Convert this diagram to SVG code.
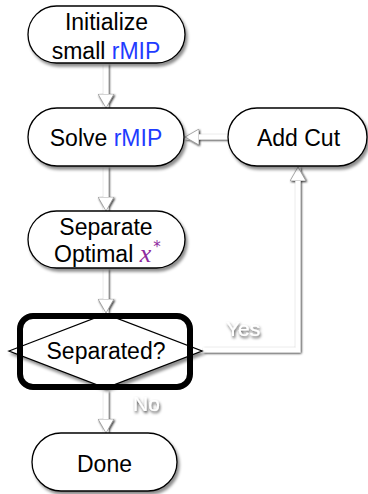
<svg xmlns="http://www.w3.org/2000/svg" width="368" height="494" viewBox="0 0 368 494">
<defs>
<style>
.node{fill:#fff;stroke:#000;stroke-width:1.3;filter:url(#sh)}
.t{font-family:"Liberation Sans",Arial,sans-serif;font-size:23px;fill:#000;text-anchor:middle}
.b{fill:#1f3cff}
.c{fill:none;stroke:#fff;stroke-width:5;filter:url(#lsh);marker-end:url(#ah)}
.lbl{font-family:"Liberation Sans",Arial,sans-serif;font-size:21px;fill:#fff;filter:url(#tsh)}
</style>
<filter id="sh" x="-20%" y="-20%" width="140%" height="150%">
<feGaussianBlur in="SourceAlpha" stdDeviation="1.5"/>
<feOffset dx="1.5" dy="2.5" result="o"/>
<feFlood flood-color="#000" flood-opacity="0.45"/>
<feComposite in2="o" operator="in"/>
<feMerge><feMergeNode/><feMergeNode in="SourceGraphic"/></feMerge>
</filter>
<filter id="lsh" filterUnits="userSpaceOnUse" x="0" y="0" width="368" height="494">
<feGaussianBlur in="SourceAlpha" stdDeviation="1"/>
<feOffset dx="0.8" dy="1.2" result="o"/>
<feFlood flood-color="#000" flood-opacity="0.85"/>
<feComposite in2="o" operator="in"/>
<feMerge><feMergeNode/><feMergeNode in="SourceGraphic"/></feMerge>
</filter>
<filter id="tsh" x="-30%" y="-30%" width="160%" height="170%">
<feGaussianBlur in="SourceAlpha" stdDeviation="1.5"/>
<feOffset dx="1" dy="2" result="o"/>
<feFlood flood-color="#000" flood-opacity="0.75"/>
<feComposite in2="o" operator="in"/>
<feMerge><feMergeNode/><feMergeNode in="SourceGraphic"/></feMerge>
</filter>
<marker id="ah" viewBox="0 0 14 16" refX="14" refY="8" markerWidth="14" markerHeight="16" markerUnits="userSpaceOnUse" orient="auto">
<path d="M0,0 L14,8 L0,16 Z" fill="#fff" stroke="#888" stroke-width="0.7"/>
</marker>
</defs>

<g id="connectors">
<path class="c" d="M106,64 V108"/>
<path class="c" d="M106,167 V211"/>
<path class="c" d="M106,269 V313"/>
<path class="c" d="M106,391 V433"/>
<path class="c" d="M228,137 H185"/>
<path class="c" d="M203,350 H298 V167"/>
<text class="lbl" x="226" y="336">Yes</text>
<text class="lbl" x="133" y="411">No</text>
</g>

<g id="init">
<rect class="node" x="28" y="6" width="157" height="57" rx="28.5"/>
<text class="t" x="106.5" y="29.5">Initialize</text>
<text class="t" x="106" y="59">small <tspan class="b">rMIP</tspan></text>
</g>

<g id="solve">
<rect class="node" x="28" y="108" width="156" height="58" rx="29"/>
<text class="t" x="106" y="145.5">Solve <tspan class="b">rMIP</tspan></text>
</g>

<g id="addcut">
<rect class="node" x="228" y="108" width="139" height="58" rx="29"/>
<text class="t" x="298.5" y="145.5">Add Cut</text>
</g>

<g id="separate">
<rect class="node" x="28" y="211" width="157" height="57" rx="28.5"/>
<text class="t" x="106" y="234.5">Separate</text>
<text class="t" x="54" y="262" style="text-anchor:start">Optimal <tspan font-family="'Liberation Serif','DejaVu Serif',serif" font-style="italic" font-size="26" fill="#8e2a9e">x</tspan><tspan font-family="'DejaVu Sans',sans-serif" font-size="15" dx="2" dy="-10" fill="#8e2a9e">*</tspan></text>
</g>

<g id="separated">
<polygon class="node" points="9,351 105.5,314 202,351 105.5,388"/>
<text class="t" x="106" y="359">Separated?</text>
<rect x="20" y="316" width="170" height="71" rx="13" fill="none" stroke="#000" stroke-width="6"/>
</g>

<g id="done">
<rect class="node" x="32" y="433" width="145" height="58" rx="29"/>
<text class="t" x="104.5" y="471.5">Done</text>
</g>
</svg>
